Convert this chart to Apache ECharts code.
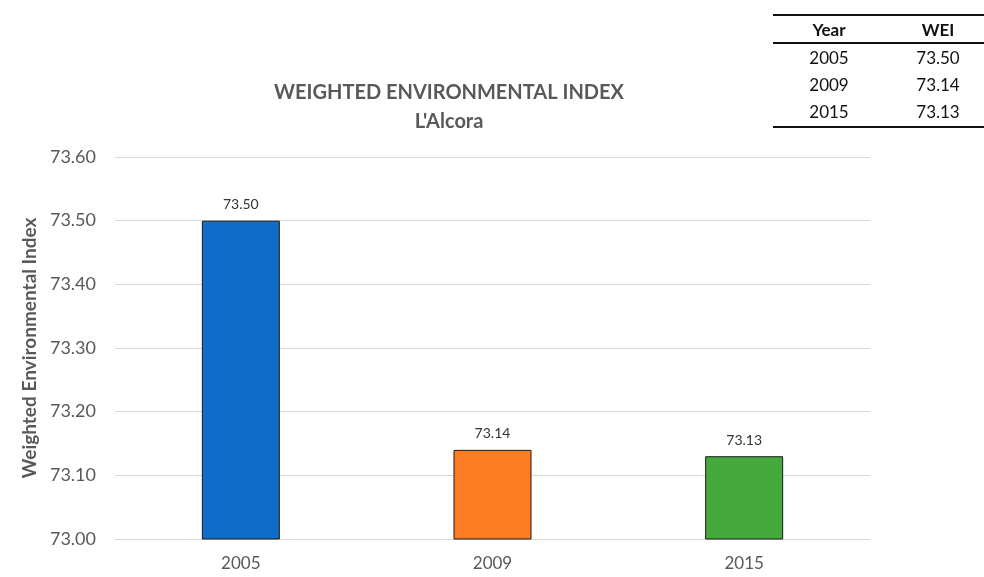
<!DOCTYPE html>
<html>
<head>
<meta charset="utf-8">
<script src="https://cdn.jsdelivr.net/npm/echarts@6/dist/echarts.min.js"></script>
<style>html,body{margin:0;padding:0;background:#fff}#c{width:984px;height:577px}</style>
</head>
<body>
<div id="c"></div>
<script>
var categories = ['2005', '2009', '2015'];
var weiValues = [73.50, 73.14, 73.13];
var barColors = ['#0f6cc9', '#fe7c21', '#44aa3c'];
var tableHeader = ['Year', 'WEI'];
var yTicks = { min: 73.0, max: 73.6, interval: 0.1 };

var font = 'Lato, "Open Sans", sans-serif';
var chart = echarts.init(document.getElementById('c'));

var tableGraphics = [
  { type: 'line', shape: { x1: 773, y1: 15, x2: 984, y2: 15 }, style: { stroke: '#111', lineWidth: 2 } },
  { type: 'line', shape: { x1: 773, y1: 43, x2: 984, y2: 43 }, style: { stroke: '#111', lineWidth: 2 } },
  { type: 'line', shape: { x1: 773, y1: 127, x2: 984, y2: 127 }, style: { stroke: '#111', lineWidth: 2 } },
  { type: 'text', x: 829, y: 31, style: { text: tableHeader[0], font: 'bold 17px ' + font, fill: '#111', textAlign: 'center', textVerticalAlign: 'middle' } },
  { type: 'text', x: 938, y: 31, style: { text: tableHeader[1], font: 'bold 17px ' + font, fill: '#111', textAlign: 'center', textVerticalAlign: 'middle' } }
];
categories.forEach(function (c, i) {
  var y = 59 + i * 27;
  tableGraphics.push({ type: 'text', x: 829, y: y, style: { text: c, font: '17px ' + font, fill: '#111', textAlign: 'center', textVerticalAlign: 'middle' } });
  tableGraphics.push({ type: 'text', x: 938, y: y, style: { text: weiValues[i].toFixed(2), font: '17px ' + font, fill: '#111', textAlign: 'center', textVerticalAlign: 'middle' } });
});

chart.setOption({
  backgroundColor: '#ffffff',
  animation: false,
  title: {
    text: 'WEIGHTED ENVIRONMENTAL INDEX',
    subtext: "L'Alcora",
    left: 444, top: 78, textAlign: 'center', itemGap: 9,
    textStyle: { fontFamily: font, fontWeight: 'bold', fontSize: 20, color: '#595959' },
    subtextStyle: { fontFamily: font, fontWeight: 'bold', fontSize: 20, color: '#595959' }
  },
  grid: { left: 115, right: 114, top: 157, bottom: 38 },
  xAxis: {
    type: 'category',
    data: categories,
    axisTick: { show: false },
    axisLine: { lineStyle: { color: '#d9d9d9' } },
    axisLabel: { fontFamily: font, fontSize: 17, color: '#595959', margin: 16 }
  },
  yAxis: {
    type: 'value',
    min: yTicks.min, max: yTicks.max, interval: yTicks.interval,
    name: 'Weighted Environmental Index',
    nameLocation: 'middle', nameGap: 70,
    nameTextStyle: { fontFamily: font, fontWeight: 'bold', fontSize: 19, color: '#595959' },
    axisLabel: { fontFamily: font, fontSize: 18, color: '#595959', margin: 19, formatter: function (v) { return v.toFixed(2); } },
    splitLine: { lineStyle: { color: '#d9d9d9' } },
    axisLine: { show: false }, axisTick: { show: false }
  },
  series: [{
    type: 'bar',
    barWidth: 78,
    data: weiValues.map(function (v, i) {
      return { value: v, itemStyle: { color: barColors[i], borderColor: '#1a1a1a', borderWidth: 1 } };
    }),
    label: {
      show: true, position: 'top', distance: 9,
      fontFamily: font, fontSize: 14, color: '#333',
      formatter: function (p) { return p.value.toFixed(2); }
    }
  }],
  graphic: tableGraphics
});
</script>
</body>
</html>
